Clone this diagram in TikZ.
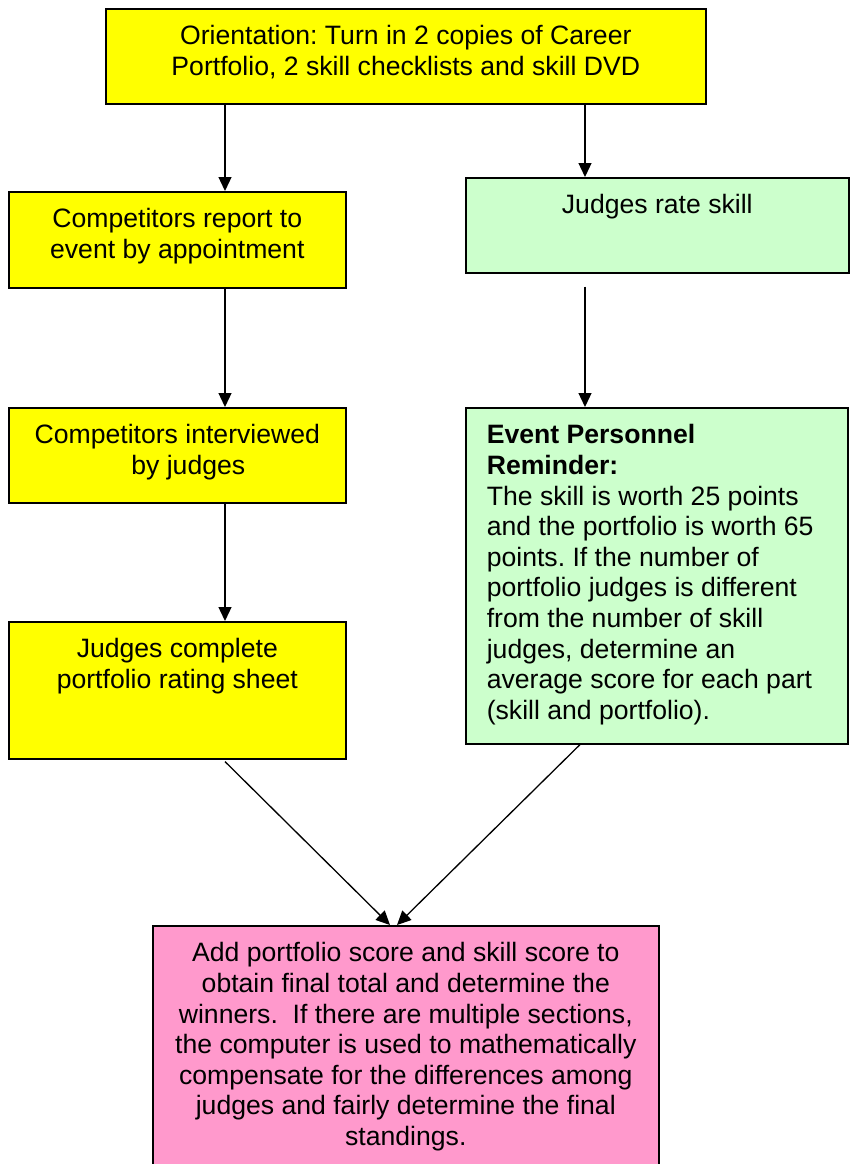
\documentclass[tikz,border=0pt]{standalone}
\usepackage{fontspec}
\setmainfont{Liberation Sans}
\usetikzlibrary{arrows.meta}
\definecolor{boxyellow}{HTML}{FFFF00}
\definecolor{boxgreen}{HTML}{CCFFCC}
\definecolor{boxpink}{HTML}{FF99CC}
\frenchspacing
\newcommand{\boxtext}[3]{\parbox[c][#2][t]{#1}{\fontsize{26.6}{30.6}\selectfont #3}}
\begin{document}
\begin{tikzpicture}[x=1pt,y=-1pt,
  flowbox/.style={draw=black,line width=1.6pt,inner sep=0pt,anchor=north west},
  arr/.style={line width=1.3pt,-{Triangle[length=14pt,width=13pt]}}]
\useasboundingbox (0,0) rectangle (851,1164);
\clip (0,0) rectangle (851,1164);
\fill[white] (0,0) rectangle (851,1164);
\node[flowbox,fill=boxyellow] (orient) at (105,8)
  {\boxtext{600pt}{95pt}{\centering\rule{0pt}{36pt}Orientation: Turn in 2 copies of Career\\Portfolio, 2 skill checklists and skill DVD\par}};
\node[flowbox,fill=boxyellow] (report) at (8,191)
  {\boxtext{337pt}{96pt}{\centering\rule{0pt}{36pt}Competitors report to\\event by appointment\par}};
\node[flowbox,fill=boxgreen] (rate) at (465,177)
  {\boxtext{383pt}{95pt}{\centering\rule{0pt}{35.5pt}Judges rate skill\par}};
\node[flowbox,fill=boxyellow] (interview) at (8,407)
  {\boxtext{337pt}{95pt}{\centering\rule{0pt}{36pt}Competitors interviewed\\\hspace*{22pt}by judges\par}};
\node[flowbox,fill=boxgreen] (remind) at (465,407)
  {\boxtext{382pt}{336pt}{\raggedright\leftskip=21pt\rule{0pt}{36pt}\textbf{Event Personnel}\\\textbf{Reminder:}\\The skill is worth 25 points\\and the portfolio is worth 65\\points. If the number of\\portfolio judges is different\\from the number of skill\\judges, determine an\\average score for each part\\(skill and portfolio).\par}};
\node[flowbox,fill=boxyellow] (complete) at (8,621)
  {\boxtext{337pt}{137pt}{\centering\rule{0pt}{36pt}Judges complete\\portfolio rating sheet\par}};
\node[flowbox,fill=boxpink] (final) at (152,925)
  {\boxtext{506pt}{260pt}{\centering\rule{0pt}{36pt}Add portfolio score and skill score to\\obtain final total and determine the\\winners.\ \ If there are multiple sections,\\the computer is used to mathematically\\compensate for the differences among\\judges and fairly determine the final\\standings.\par}};
\coordinate (cL) at (225,0);
\coordinate (cR) at (585,0);
\coordinate (cR2) at (580,0);
\coordinate (mL) at (390,0);
\coordinate (mR) at (397,0);
\draw[arr] (orient.south -| cL) -- (report.north -| cL);
\draw[arr] (orient.south -| cR) -- (rate.north -| cR);
\draw[arr] ([yshift=-13pt]rate.south -| cR) -- (remind.north -| cR);
\draw[arr] (report.south -| cL) -- (interview.north -| cL);
\draw[arr] (interview.south -| cL) -- (complete.north -| cL);
\draw[arr] ([yshift=-2pt]complete.south -| cL) -- (final.north -| mL);
\draw[arr] (remind.south -| cR2) -- (final.north -| mR);
\end{tikzpicture}
\end{document}
